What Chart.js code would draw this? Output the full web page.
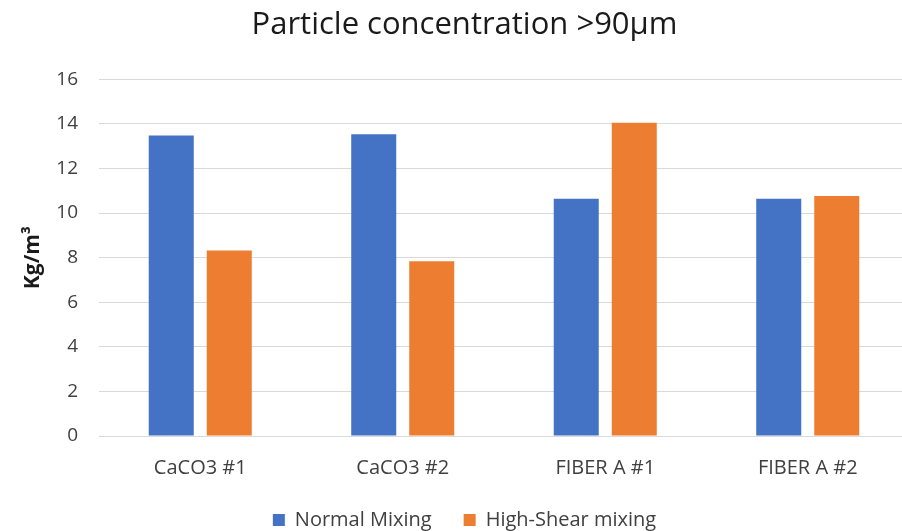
<!DOCTYPE html>
<html>
<head>
<meta charset="utf-8">
<script src="https://cdn.jsdelivr.net/npm/chart.js@4.4.1/dist/chart.umd.min.js"></script>
<style>
html,body{margin:0;padding:0;background:#fff;overflow:hidden;}
#wrap{width:902px;height:531px;overflow:hidden;}
</style>
</head>
<body>
<div id="wrap"><canvas id="c" width="918" height="531"></canvas></div>
<script>
const categories = ["CaCO3 #1", "CaCO3 #2", "FIBER A #1", "FIBER A #2"];
const normalMixing = [13.47, 13.53, 10.64, 10.64];
const highShearMixing = [8.32, 7.84, 14.05, 10.76];
const seriesNames = ["Normal Mixing", "High-Shear mixing"];
const yTicks = {min: 0, max: 16, step: 2};
const chartTitle = "Particle concentration >90µm";
const yTitle = "Kg/m³";

const FONT = "'Open Sans', sans-serif";

new Chart(document.getElementById('c'), {
  type: 'bar',
  data: {
    labels: categories,
    datasets: [
      {label: seriesNames[0], data: normalMixing, backgroundColor: '#4472C4', borderWidth: 0,
       categoryPercentage: 0.573, barPercentage: 0.776},
      {label: seriesNames[1], data: highShearMixing, backgroundColor: '#ED7D31', borderWidth: 0,
       categoryPercentage: 0.573, barPercentage: 0.776}
    ]
  },
  options: {
    responsive: false,
    animation: false,
    devicePixelRatio: 1,
    layout: {padding: {left: 20, right: 9, top: 4, bottom: -9}},
    plugins: {
      title: {display: true, text: chartTitle, color: '#1a1a1a',
              font: {family: FONT, size: 31, weight: 'normal'}, padding: {top: 3, bottom: 35}},
      legend: {position: 'bottom',
               labels: {boxWidth: 12, boxHeight: 12, color: '#404040', padding: 32,
                        font: {family: FONT, size: 20}}},
      tooltip: {enabled: false}
    },
    scales: {
      x: {
        grid: {display: false, drawTicks: false},
        border: {color: '#d9d9d9', width: 1},
        ticks: {color: '#404040', padding: 20, font: {family: FONT, size: 20}},
        afterFit: (s) => { s.height = s.height - 22; }
      },
      y: {
        min: yTicks.min, max: yTicks.max,
        ticks: {stepSize: yTicks.step, color: '#404040', padding: 21, font: {family: FONT, size: 19}},
        grid: {color: '#d9d9d9', lineWidth: 1, drawTicks: false},
        border: {display: false},
        title: {display: true, text: yTitle, color: '#1a1a1a', padding: {top: 0, bottom: 0},
                font: {family: FONT, size: 21, weight: 'bold'}},
        afterFit: (s) => { s.width = 79; }
      }
    }
  }
});
</script>
</body>
</html>
